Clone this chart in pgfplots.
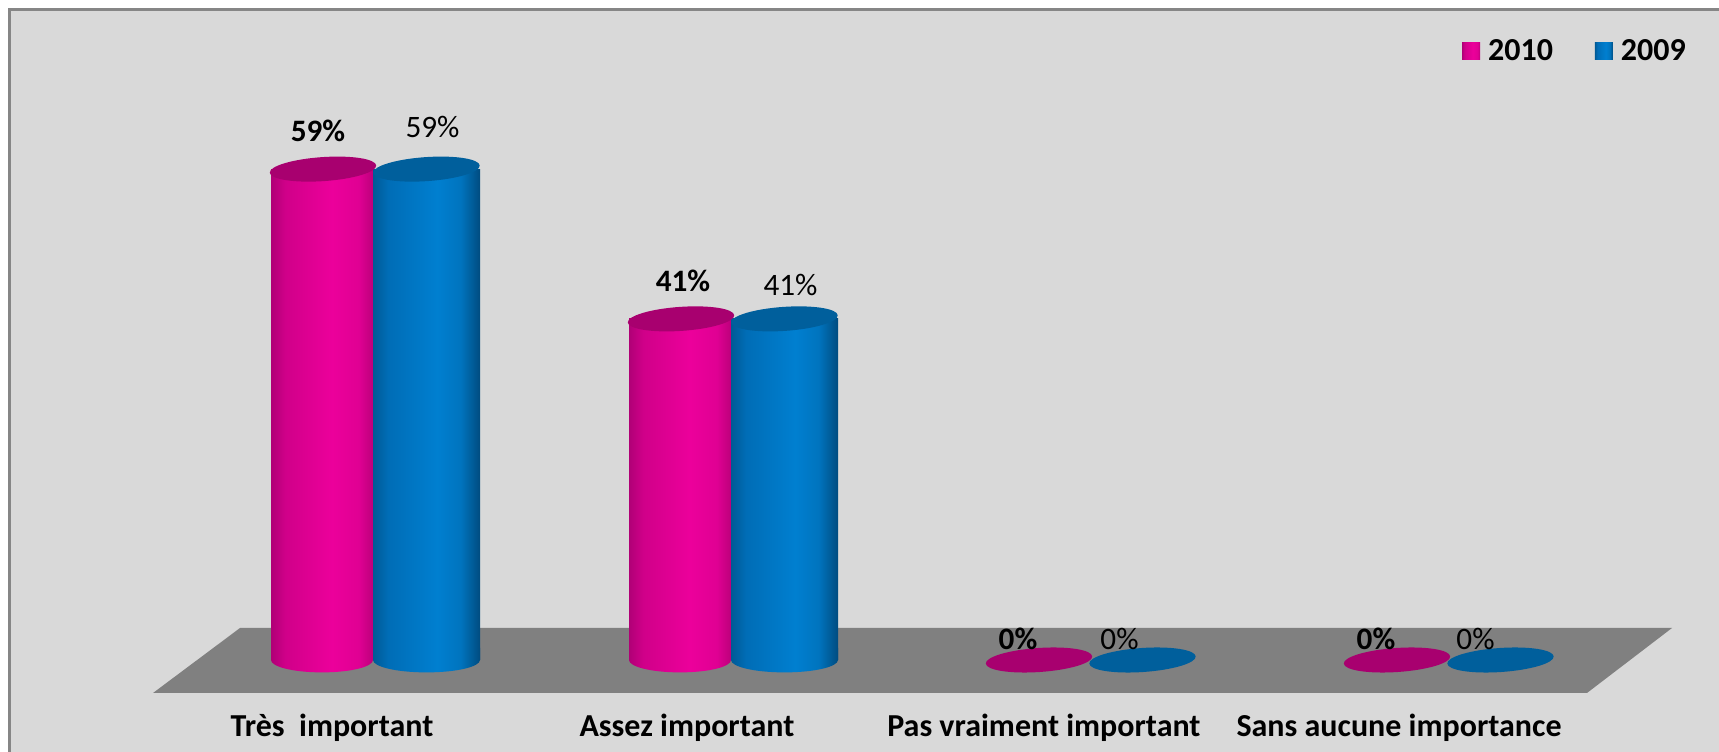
\documentclass[border=0pt]{standalone}
\usepackage{fontspec}
\setmainfont{Carlito}
\usepackage{pgfplots}
\usepackage{pgfplotstable}
\pgfplotsset{compat=1.18}

\definecolor{bgcol}{HTML}{D9D9D9}
\definecolor{framecol}{HTML}{868686}
\definecolor{floorcol}{HTML}{808080}
\definecolor{legM}{HTML}{D6008C}
\definecolor{legB}{HTML}{0070C0}
\definecolor{capM}{HTML}{A8006F}
\definecolor{capB}{HTML}{005F9C}
\definecolor{ma}{HTML}{B00076}
\definecolor{mb}{HTML}{D00089}
\definecolor{mc}{HTML}{EC009B}
\definecolor{md}{HTML}{E00093}
\definecolor{me}{HTML}{BC007B}
\definecolor{ba}{HTML}{005A96}
\definecolor{bb}{HTML}{006DB6}
\definecolor{bc}{HTML}{007FD0}
\definecolor{bd}{HTML}{0074BE}
\definecolor{be}{HTML}{004C80}

\pgfdeclarehorizontalshading{cylM}{100bp}{
  color(0bp)=(ma);color(25bp)=(ma);color(32bp)=(mb);
  color(55bp)=(mc);color(68bp)=(md);color(75bp)=(me);color(100bp)=(me)}
\pgfdeclarehorizontalshading{cylB}{100bp}{
  color(0bp)=(ba);color(25bp)=(ba);color(32bp)=(bb);
  color(55bp)=(bc);color(66bp)=(bd);color(75bp)=(be);color(100bp)=(be)}

% cylinder ends, a little tilted
\pgfdeclareplotmark{baseM}{\shade[shading=cylM,draw=none] (-25.5bp,0bp) arc [start angle=180,end angle=360,x radius=25.5bp,y radius=6.2bp] -- (25.5bp,6bp) -- (-25.5bp,6bp) -- cycle;}
\pgfdeclareplotmark{baseB}{\shade[shading=cylB,draw=none] (-26.75bp,0bp) arc [start angle=180,end angle=360,x radius=26.75bp,y radius=6.2bp] -- (26.75bp,6bp) -- (-26.75bp,6bp) -- cycle;}
\pgfdeclareplotmark{topcap}{\pgfpathellipse{\pgfpointorigin}{\pgfqpoint{26.6bp}{1.8bp}}{\pgfqpoint{-0.4bp}{6bp}}\pgfusepathqfill}

% offsets of the value labels from the column centre, in px of the reference
\pgfplotstableread{
idx y2010 y2009 dxa dya dxb dyb
0   59    59    -5  38  6   42
1   41    41    2   38  6   34
2   0     0     -21 21  -23 21
3   0     0     -21 21  -25 21
}\datatable

\begin{document}
\begin{tikzpicture}
\begin{axis}[
  scale only axis,
  width=859.5bp,
  height=376bp,
  xmin=-1.04190, xmax=3.75978,
  ymin=-11.058, ymax=79.327,
  clip=false,
  axis background/.style={fill=bgcol},
  axis line style={draw=none},
  tick style={draw=none},
  ytick=\empty,
  xtick={-0.1145,0.877,1.874,2.866},
  xticklabels={Très\ \ important,Assez important,Pas vraiment important,Sans aucune importance},
  x tick label style={font=\fontsize{16bp}{18bp}\selectfont\bfseries,anchor=base,yshift=8bp},
  /pgf/number format/assume math mode=true,
  legend columns=2,
  legend cell align=left,
  legend style={at={(rel axis cs:0.9168,0.9320)},anchor=center,draw=none,fill=none,
    font=\fontsize{16bp}{18bp}\selectfont\bfseries,
    /tikz/every even column/.append style={column sep=19bp}},
]
% white margin and grey frame, top and left only
\path[fill=white] (rel axis cs:0,0) rectangle (rel axis cs:0.00465,1);
\path[fill=white] (rel axis cs:0,0.98936) rectangle (rel axis cs:1,1);
\path[fill=framecol] (rel axis cs:0.00465,0) rectangle (rel axis cs:0.0064,0.98936);
\path[fill=framecol] (rel axis cs:0.00465,0.98537) rectangle (rel axis cs:1,0.98936);

\addplot[forget plot,fill=floorcol,draw=none] coordinates
  {(-0.6145,-3.966) (3.391,-3.966) (3.6285,3.846) (-0.3715,3.846)} --cycle;

% bottom ends of the standing cylinders
\addplot[forget plot,only marks,draw=none,mark=baseM,mark options={xshift=-25.5bp,draw=none}]
  table[x=idx,y expr=0,restrict x to domain=0:1.5] {\datatable};
\addplot[forget plot,only marks,draw=none,mark=baseB,mark options={xshift=26.75bp,draw=none}]
  table[x=idx,y expr=0,restrict x to domain=0:1.5] {\datatable};

% one plot per cylinder, else the shading spans the whole series
\addplot[ybar,bar width=51bp,bar shift=-25.5bp,draw=none,shading=cylM,
  legend image code/.code={\fill[legM] (0bp,-4.3bp) rectangle (9bp,4.3bp); \path (11bp,0bp);},
  restrict x to domain=0:0.5] table[x=idx,y=y2010] {\datatable};
\addplot[ybar,bar width=53.5bp,bar shift=26.75bp,draw=none,shading=cylB,
  legend image code/.code={\fill[legB] (0bp,-4.3bp) rectangle (9bp,4.3bp); \path (11bp,0bp);},
  restrict x to domain=0:0.5] table[x=idx,y=y2009] {\datatable};
\addplot[forget plot,ybar,bar width=51bp,bar shift=-25.5bp,draw=none,shading=cylM,
  restrict x to domain=0.5:1.5] table[x=idx,y=y2010] {\datatable};
\addplot[forget plot,ybar,bar width=53.5bp,bar shift=26.75bp,draw=none,shading=cylB,
  restrict x to domain=0.5:1.5] table[x=idx,y=y2009] {\datatable};

% top ends and value labels
\addplot[forget plot,only marks,mark=topcap,mark options={xshift=26.75bp,color=capB,fill=capB},
  visualization depends on={\thisrow{dxb}\as\dxv},
  visualization depends on={\thisrow{dyb}\as\dyv},
  nodes near coords={\pgfmathprintnumber{\pgfplotspointmeta}\%},
  nodes near coords style={anchor=center,text=black,xshift=\dxv*0.5bp,yshift=\dyv*0.5bp,
    font=\fontsize{15.6bp}{18bp}\selectfont},
  ] table[x=idx,y=y2009] {\datatable};
\addplot[forget plot,only marks,mark=topcap,mark options={xshift=-25bp,color=capM,fill=capM},
  visualization depends on={\thisrow{dxa}\as\dxv},
  visualization depends on={\thisrow{dya}\as\dyv},
  nodes near coords={\pgfmathprintnumber{\pgfplotspointmeta}\%},
  nodes near coords style={anchor=center,text=black,xshift=\dxv*0.5bp,yshift=\dyv*0.5bp,
    font=\fontsize{15.6bp}{18bp}\selectfont\bfseries},
  ] table[x=idx,y=y2010] {\datatable};

\legend{2010,2009}
\path[use as bounding box] (rel axis cs:0,0) rectangle (rel axis cs:1,1);
\end{axis}
\end{tikzpicture}
\end{document}
